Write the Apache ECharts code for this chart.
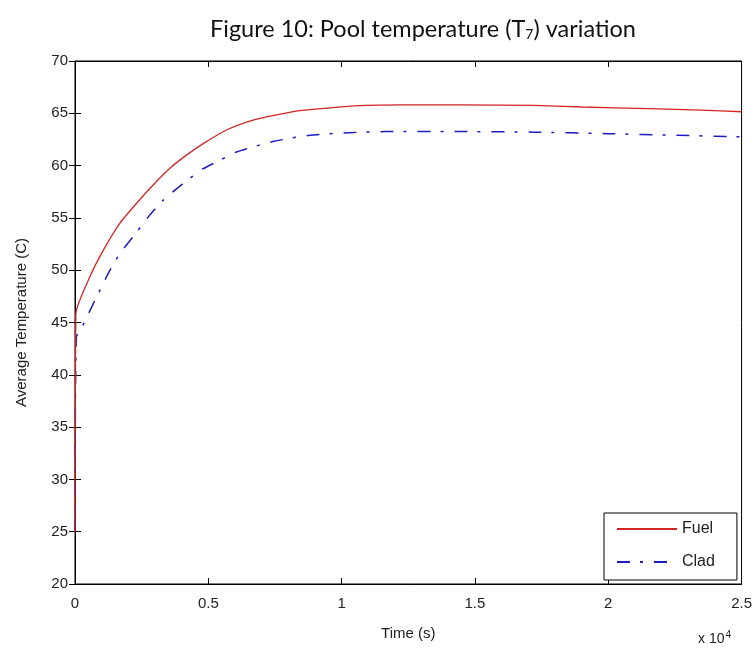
<!DOCTYPE html>
<html>
<head>
<meta charset="utf-8">
<script src="https://cdn.jsdelivr.net/npm/echarts@6/dist/echarts.min.js"></script>
<style>html,body{margin:0;padding:0;background:#fff;}#c{width:755px;height:648px;}</style>
</head>
<body>
<div id="c"></div>
<script>
const titleText = 'Figure 10: Pool temperature (T{sub|7}) variation';
const xName = 'Time (s)';
const yName = 'Average Temperature (C)';
const seriesNames = ['Fuel', 'Clad'];
const xTicks = [0, 5000, 10000, 15000, 20000, 25000];
const yTicks = [20, 25, 30, 35, 40, 45, 50, 55, 60, 65, 70];

const fuelTime = [0, 30, 562, 1060, 1685, 2310, 2930, 3560, 4180, 4810, 5680, 6500, 7180, 8430, 9660, 10930, 12170, 14500, 17200, 19000, 21500, 23500, 25000];
const fuelTemp = [25, 45.8, 49.4, 51.9, 54.5, 56.4, 58.15, 59.75, 61.0, 62.1, 63.4, 64.2, 64.65, 65.25, 65.55, 65.75, 65.8, 65.8, 65.75, 65.6, 65.45, 65.3, 65.15];

const cladTime = [0, 50, 250, 440, 936, 1310, 1685, 2180, 2750, 3310, 4060, 4810, 5430, 6060, 7430, 8800, 10300, 11670, 14500, 17200, 20000, 22500, 25000];
const cladTemp = [25, 43.6, 44.5, 45.5, 48.1, 50.0, 51.6, 53.2, 55.1, 56.7, 58.3, 59.7, 60.5, 61.3, 62.3, 62.9, 63.15, 63.25, 63.25, 63.2, 63.05, 62.9, 62.75];

const fuelData = fuelTime.map((t, i) => [t, fuelTemp[i]]);
const cladData = cladTime.map((t, i) => [t, cladTemp[i]]);

const chart = echarts.init(document.getElementById('c'), null, {renderer: 'canvas'});
const labelFont = {fontFamily: 'Liberation Sans, Arial, sans-serif', fontSize: 15, color: '#222'};

chart.setOption({
  backgroundColor: '#fff',
  animation: false,
  title: {
    text: titleText,
    left: 205,
    top: 12,
    textStyle: {
      fontFamily: 'Lato, Open Sans, sans-serif',
      fontSize: 23.5,
      fontWeight: 'normal',
      color: '#111',
      rich: {
        sub: {fontFamily: 'Lato, Open Sans, sans-serif', fontSize: 14, color: '#111', verticalAlign: 'bottom', padding: [10, 0, 0, 0]}
      }
    }
  },
  grid: {left: 75, top: 61, right: 13, bottom: 64, show: true, borderColor: '#000', borderWidth: 1, backgroundColor: '#fff'},
  legend: {
    orient: 'vertical',
    left: 604,
    top: 513,
    data: seriesNames,
    itemWidth: 60,
    itemHeight: 14,
    itemGap: 17,
    padding: [8, 22, 10, 12],
    borderColor: '#000',
    borderWidth: 1,
    backgroundColor: '#fff',
    itemStyle: {opacity: 0, color: 'transparent', borderColor: 'transparent', borderWidth: 0},
    textStyle: {fontFamily: 'Liberation Sans, Arial, sans-serif', fontSize: 16, color: '#222'}
  },
  xAxis: [{
    type: 'value',
    min: 0, max: 25000, interval: 5000,
    name: xName,
    nameLocation: 'middle',
    nameGap: 42,
    nameTextStyle: labelFont,
    axisLine: {show: true, lineStyle: {color: '#000', width: 1}},
    axisTick: {show: true, inside: true, length: 6, lineStyle: {color: '#000'}},
    axisLabel: Object.assign({margin: 12, formatter: v => xTicks.includes(v) ? String(v / 10000) : ''}, labelFont),
    splitLine: {show: false}
  }, {
    type: 'value',
    position: 'top',
    min: 0, max: 25000, interval: 5000,
    axisLine: {show: true, lineStyle: {color: '#000'}},
    axisTick: {show: true, inside: true, length: 6, lineStyle: {color: '#000'}},
    axisLabel: {show: false},
    splitLine: {show: false}
  }],
  yAxis: [{
    type: 'value',
    min: 20, max: 70, interval: 5,
    name: yName,
    nameLocation: 'middle',
    nameGap: 46,
    nameTextStyle: labelFont,
    axisLine: {show: true, lineStyle: {color: '#000', width: 1}},
    axisTick: {show: true, inside: true, length: 6, lineStyle: {color: '#000'}},
    axisLabel: Object.assign({margin: 7, formatter: v => yTicks.includes(v) ? String(v) : ''}, labelFont),
    splitLine: {show: false}
  }, {
    type: 'value',
    position: 'right',
    min: 20, max: 70, interval: 5,
    axisLine: {show: true, lineStyle: {color: '#000'}},
    axisTick: {show: true, inside: true, length: 6, lineStyle: {color: '#000'}},
    axisLabel: {show: false},
    splitLine: {show: false}
  }],
  graphic: [{
    type: 'text',
    left: 698,
    top: 630,
    style: {
      text: 'x 10{sup|4}',
      fontFamily: 'Liberation Sans, Arial, sans-serif',
      fontSize: 14,
      fill: '#222',
      rich: {sup: {fontSize: 10, fontFamily: 'Liberation Sans, Arial, sans-serif', fill: '#222', verticalAlign: 'top', padding: [0, 0, 8, 1]}}
    }
  }],
  series: [{
    name: seriesNames[0],
    type: 'line',
    data: fuelData,
    showSymbol: false,
    symbol: 'none',
    smooth: 0.2,
    lineStyle: {color: '#d42424', width: 1.3},
    itemStyle: {color: '#d42424'},
    z: 3
  }, {
    name: seriesNames[1],
    type: 'line',
    data: cladData,
    showSymbol: false,
    symbol: 'none',
    smooth: 0.2,
    lineStyle: {color: '#1c1cc0', width: 1.5, type: [13, 10, 3, 11]},
    itemStyle: {color: '#1c1cc0'},
    z: 2
  }]
});
</script>
</body>
</html>
